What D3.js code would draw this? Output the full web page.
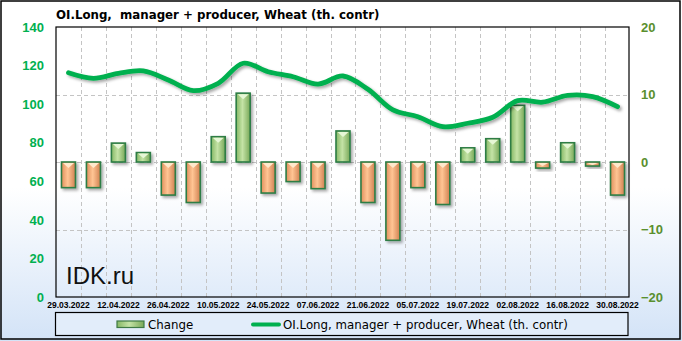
<!DOCTYPE html>
<html><head><meta charset="utf-8">
<script src="https://cdn.jsdelivr.net/npm/d3@7"></script>
<style>html,body{margin:0;padding:0;background:#fff;}svg{display:block;} text{white-space:pre;}</style>
</head><body>
<script>
const dates = ["29.03.2022","05.04.2022","12.04.2022","19.04.2022","26.04.2022","03.05.2022","10.05.2022","17.05.2022","24.05.2022","31.05.2022","07.06.2022","14.06.2022","21.06.2022","28.06.2022","05.07.2022","12.07.2022","19.07.2022","26.07.2022","02.08.2022","09.08.2022","16.08.2022","23.08.2022","30.08.2022"];
const changeValues = [-3.8,-3.8,2.8,1.4,-4.9,-6.0,3.75,10.2,-4.6,-2.9,-3.95,4.6,-6.0,-11.6,-3.8,-6.3,2.1,3.45,8.4,-0.9,2.85,-0.6,-4.9];
const oiValues = [116.3,113.4,116.0,117.3,112.5,107.0,110.8,121.2,116.8,114.2,110.4,114.6,107.7,97.0,93.5,88.3,90.1,93.2,101.8,101.0,104.5,103.9,98.7];
const leftTicks = [0,20,40,60,80,100,120,140];
const rightTicks = [-20,-10,0,10,20];
const xTickLabels = dates.filter((d,i)=>i%2===0);
const titleText = "OI.Long,  manager + producer, Wheat (th. contr)";
const seriesNames = ["Change","OI.Long, manager + producer, Wheat (th. contr)"];

const W=682,H=341;
const svg=d3.select("body").append("svg").attr("width",W).attr("height",H);
const defs=svg.append("defs");
const bg=defs.append("linearGradient").attr("id","bg").attr("x1",0).attr("y1",0).attr("x2",0).attr("y2",1);
bg.append("stop").attr("offset","0").attr("stop-color","#ffffff");
bg.append("stop").attr("offset","0.55").attr("stop-color","#ffffff");
bg.append("stop").attr("offset","1").attr("stop-color","#d3e3f7");
const gO=defs.append("linearGradient").attr("id","gO");
gO.append("stop").attr("offset","0").attr("stop-color","#e0905c");
gO.append("stop").attr("offset","0.45").attr("stop-color","#ffc594");
gO.append("stop").attr("offset","1").attr("stop-color","#d08050");
const gG=defs.append("linearGradient").attr("id","gG");
gG.append("stop").attr("offset","0").attr("stop-color","#86b865");
gG.append("stop").attr("offset","0.45").attr("stop-color","#c4e3a6");
gG.append("stop").attr("offset","1").attr("stop-color","#78a858");
const sh=defs.append("filter").attr("id","sh").attr("x","-50%").attr("y","-50%").attr("width","200%").attr("height","200%");
sh.append("feDropShadow").attr("dx",2).attr("dy",2).attr("stdDeviation",1.5).attr("flood-color","#000").attr("flood-opacity",0.35);

svg.append("rect").attr("x",0).attr("y",0).attr("width",W).attr("height",H).attr("fill","url(#bg)");
svg.append("rect").attr("x",1).attr("y",1).attr("width",679).attr("height",338).attr("fill","none").attr("stroke","#000").attr("stroke-width",1.5);

const L=56,R=630,T=27,B=297;
const x=d3.scaleBand().domain(dates).range([L,R]).padding(0);
const yL=d3.scaleLinear().domain([0,140]).range([B,T]);
const yR=d3.scaleLinear().domain([-20,20]).range([B,T]);

// grid
const grid=svg.append("g").attr("stroke","#c4c4c4").attr("stroke-dasharray","4,3").attr("stroke-width",1);
dates.slice(1).forEach(d=>{grid.append("line").attr("x1",Math.round(x(d))+0.5).attr("x2",Math.round(x(d))+0.5).attr("y1",T).attr("y2",B);});
[-10,0,10].forEach(v=>{grid.append("line").attr("x1",L).attr("x2",R).attr("y1",Math.round(yR(v))+0.5).attr("y2",Math.round(yR(v))+0.5);});

// bars
const bw=14;
const bars=svg.append("g");
dates.forEach((d,i)=>{
  const v=changeValues[i];
  const cx=x(d)+x.bandwidth()/2;
  const y0=yR(0), y1=yR(v);
  const top=Math.min(y0,y1), h=Math.max(Math.abs(y1-y0),2);
  const g=bars.append("g").attr("filter","url(#sh)");
  g.append("rect").attr("x",cx-bw/2).attr("y",top).attr("width",bw).attr("height",h)
    .attr("fill",v<0?"url(#gO)":"url(#gG)").attr("stroke","#2d7d45").attr("stroke-width",1.6);
  const th=Math.min(5,h/2);
  g.append("path").attr("d",`M${cx-bw/2+1.5},${top+1}L${cx+bw/2-1.5},${top+1}L${cx},${top+1+th}Z`)
    .attr("fill",v<0?"#ffe9cc":"#e6f7d6");
});

// line
const line=d3.line().x((d,i)=>x(dates[i])+x.bandwidth()/2).y(d=>yL(d)).curve(d3.curveCatmullRom.alpha(0.5));
svg.append("path").datum(oiValues).attr("d",line).attr("fill","none").attr("stroke","#00b04f").attr("stroke-width",4.8)
  .attr("stroke-linecap","round").attr("filter","url(#sh)");

// plot border
svg.append("rect").attr("x",L).attr("y",T).attr("width",R-L-1).attr("height",B-T).attr("fill","none").attr("stroke","#000").attr("stroke-width",1.2);

// axes
const ax1=svg.append("g").attr("transform",`translate(50,0)`).call(d3.axisLeft(yL).tickValues(leftTicks).tickSize(0).tickPadding(6));
ax1.select(".domain").remove();
ax1.selectAll("text").attr("fill","#00b050").style("font","bold 13px 'Liberation Sans', Arial, sans-serif");
const ax2=svg.append("g").attr("transform",`translate(629,0)`).call(d3.axisRight(yR).tickValues(rightTicks).tickSize(0).tickPadding(12));
ax2.select(".domain").remove();
ax2.selectAll("text").attr("fill","#5a8f2e").style("font","bold 13px 'Liberation Sans', Arial, sans-serif");
const ax3=svg.append("g").attr("transform",`translate(0,${B})`).call(d3.axisBottom(x).tickValues(xTickLabels).tickSize(0).tickPadding(5));
ax3.select(".domain").remove();
ax3.selectAll("text").attr("fill","#000").style("font","bold 8.5px 'Liberation Sans', Arial, sans-serif");

// title
svg.append("text").attr("x",56).attr("y",19).text(titleText).style("font","bold 11.8px 'DejaVu Sans', Verdana, sans-serif").attr("fill","#000");

// watermark
svg.append("text").attr("x",66).attr("y",284).text("IDK.ru").style("font","24px 'Liberation Sans', Arial, sans-serif").attr("fill","#111");

// legend
svg.append("rect").attr("x",55.5).attr("y",312.5).attr("width",572.5).attr("height",23).attr("fill","#e2edfa").attr("stroke","#000").attr("stroke-width",1.2);
const lg=svg.append("g");
lg.append("rect").attr("x",117).attr("y",321).attr("width",27).attr("height",6.5).attr("fill","url(#gG)").attr("stroke","#3e7a45").attr("stroke-width",1.2);
lg.append("text").attr("x",148).attr("y",329).text(seriesNames[0]).style("font","11.8px 'DejaVu Sans', Verdana, sans-serif");
lg.append("line").attr("x1",253).attr("x2",279).attr("y1",324.5).attr("y2",324.5).attr("stroke","#00b04f").attr("stroke-width",4).attr("stroke-linecap","round");
lg.append("text").attr("x",283).attr("y",329).text(seriesNames[1]).style("font","11.8px 'DejaVu Sans', Verdana, sans-serif");
</script>
</body></html>
